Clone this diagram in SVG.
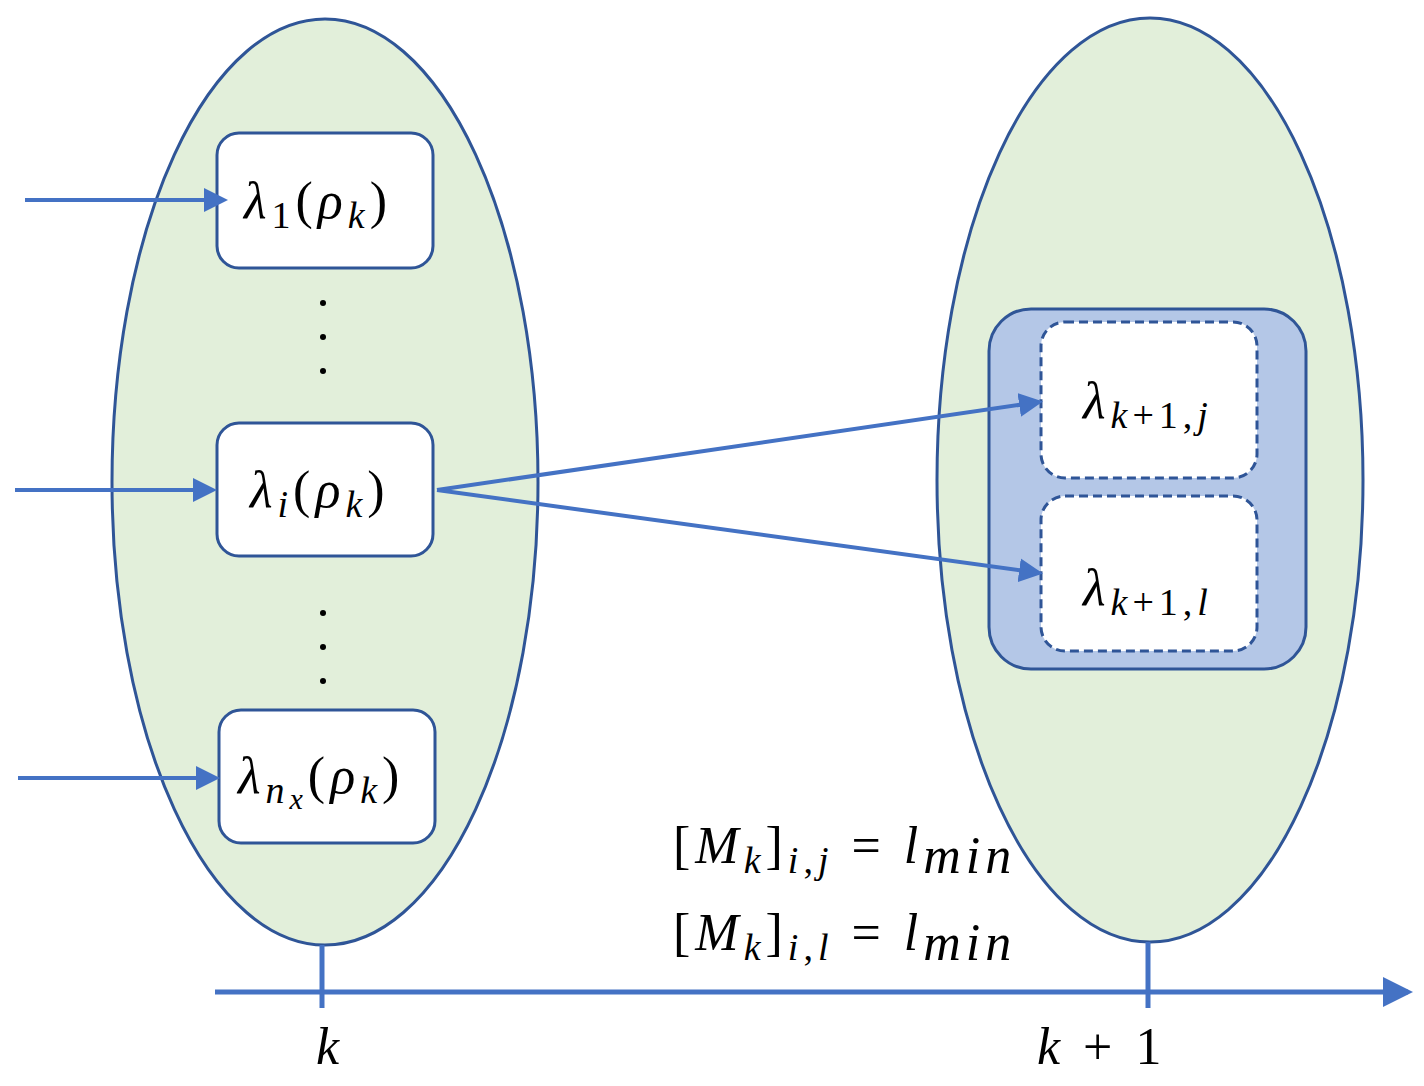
<svg xmlns="http://www.w3.org/2000/svg" width="1424" height="1086" viewBox="0 0 1424 1086">
<defs>
<style>
.ell{fill:#e2efda;stroke:#2f5597;stroke-width:3}
.box{fill:#fff;stroke:#2f5597;stroke-width:3}
.dbox{fill:#fff;stroke:#2f5597;stroke-width:3;stroke-dasharray:9,5}
.ln{stroke:#4472c4;stroke-width:4;fill:none}
.t{font-family:"Liberation Serif","DejaVu Serif",serif;font-size:52px;fill:#000;letter-spacing:5px}
.i{font-style:italic}
.s{font-size:38px}
</style>
<marker id="ah" markerWidth="6" markerHeight="6" refX="5" refY="3" orient="auto" markerUnits="strokeWidth"><path d="M0,0L6,3L0,6z" fill="#4472c4"/></marker>
</defs>
<g id="left"><ellipse class="ell" cx="325" cy="482" rx="213" ry="463"/></g>
<g id="right"><ellipse class="ell" cx="1150" cy="480" rx="213" ry="462"/></g>
<g id="b1"><rect class="box" x="217" y="133" width="216" height="135" rx="22"/>
<text class="t" x="244" y="218"><tspan class="i">λ</tspan><tspan class="s" dy="10">1</tspan><tspan dy="-10">(</tspan><tspan class="i">ρ</tspan><tspan class="s i" dy="10">k</tspan><tspan dy="-10">)</tspan></text></g>
<g id="dots1" fill="#000"><circle cx="323" cy="303" r="3"/><circle cx="323" cy="337" r="3"/><circle cx="323" cy="371" r="3"/></g>
<g id="bi"><rect class="box" x="217" y="423" width="216" height="133" rx="22"/>
<text class="t" x="250" y="507"><tspan class="i">λ</tspan><tspan class="s i" dy="10">i</tspan><tspan dy="-10">(</tspan><tspan class="i">ρ</tspan><tspan class="s i" dy="10">k</tspan><tspan dy="-10">)</tspan></text></g>
<g id="dots2" fill="#000"><circle cx="323" cy="613" r="3"/><circle cx="323" cy="647" r="3"/><circle cx="323" cy="681" r="3"/></g>
<g id="bn"><rect class="box" x="219" y="710" width="216" height="133" rx="22"/>
<text class="t" x="238" y="793"><tspan class="i">λ</tspan><tspan class="s i" dy="10">n</tspan><tspan class="i" style="font-size:30px" dy="6">x</tspan><tspan dy="-16">(</tspan><tspan class="i">ρ</tspan><tspan class="s i" dy="10">k</tspan><tspan dy="-10">)</tspan></text></g>
<g id="group"><rect x="989" y="309" width="317" height="360" rx="42" fill="#b4c7e7" stroke="#2f5597" stroke-width="3"/>
<rect class="dbox" x="1041" y="322" width="216" height="156" rx="24"/>
<rect class="dbox" x="1041" y="496" width="216" height="155" rx="24"/>
<text class="t" x="1083" y="418"><tspan class="i">λ</tspan><tspan class="s" dy="10"><tspan class="i">k</tspan>+1,<tspan class="i">j</tspan></tspan></text>
<text class="t" x="1083" y="605"><tspan class="i">λ</tspan><tspan class="s" dy="10"><tspan class="i">k</tspan>+1,<tspan class="i">l</tspan></tspan></text></g>
<g id="connectors">
<line class="ln" x1="25" y1="200" x2="224" y2="200" marker-end="url(#ah)"/>
<line class="ln" x1="15" y1="490" x2="213" y2="490" marker-end="url(#ah)"/>
<line class="ln" x1="18" y1="778" x2="216" y2="778" marker-end="url(#ah)"/>
<line class="ln" x1="437" y1="490" x2="1039" y2="402" marker-end="url(#ah)"/>
<line class="ln" x1="437" y1="490" x2="1039" y2="573" marker-end="url(#ah)"/>
<line class="ln" x1="215" y1="992" x2="1408" y2="992" marker-end="url(#ah)" style="stroke-width:5"/>
<line class="ln" x1="322" y1="945" x2="322" y2="1008" style="stroke-width:5"/>
<line class="ln" x1="1148" y1="942" x2="1148" y2="1008" style="stroke-width:5"/>
</g>
<g id="labels">
<text class="t" x="673" y="863">[<tspan class="i">M</tspan><tspan class="s i" dy="10">k</tspan><tspan dy="-10">]</tspan><tspan class="s" dy="10"><tspan class="i">i</tspan>,<tspan class="i">j</tspan></tspan><tspan dy="-10"> = </tspan><tspan class="i">l</tspan><tspan class="i" dy="10">min</tspan></text>
<text class="t" x="673" y="950">[<tspan class="i">M</tspan><tspan class="s i" dy="10">k</tspan><tspan dy="-10">]</tspan><tspan class="s" dy="10"><tspan class="i">i</tspan>,<tspan class="i">l</tspan></tspan><tspan dy="-10"> = </tspan><tspan class="i">l</tspan><tspan class="i" dy="10">min</tspan></text>
<text class="t i" x="316" y="1064">k</text>
<text class="t" x="1037" y="1064"><tspan class="i">k</tspan> + 1</text>
</g>
</svg>
